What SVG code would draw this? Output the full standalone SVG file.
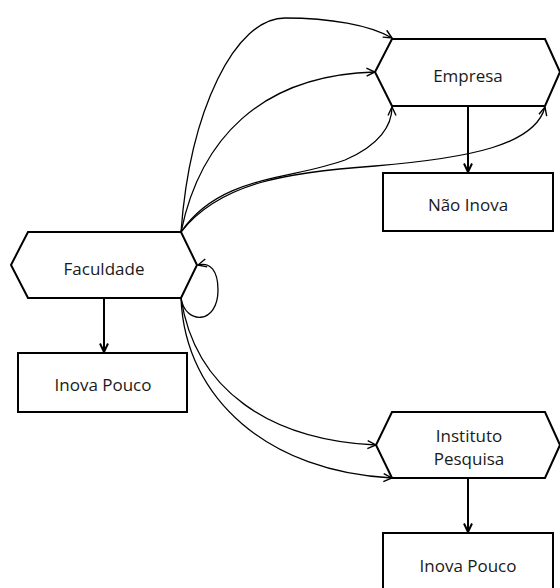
<svg xmlns="http://www.w3.org/2000/svg" width="560" height="588" viewBox="0 0 560 588">
<style>
.node{fill:#fff;stroke:#000;stroke-width:2}
.lbl{font-family:"Open Sans","Liberation Sans",sans-serif;font-size:17px;fill:#1a1a1a;text-anchor:middle}
.con{fill:none;stroke:#000;stroke-width:1.3}
.down{fill:none;stroke:#000;stroke-width:2}
</style>
<defs>
<marker id="arr" viewBox="0 0 10 10" refX="9.5" refY="5" markerWidth="10" markerHeight="10" markerUnits="userSpaceOnUse" orient="auto">
<path d="M1,1 L9.5,5 L1,9" fill="none" stroke="#000" stroke-width="1.4"/>
</marker>
<marker id="arrd" viewBox="0 0 10 10" refX="9.5" refY="5" markerWidth="10" markerHeight="10" markerUnits="userSpaceOnUse" orient="auto">
<path d="M1,1 L9.5,5 L1,9" fill="none" stroke="#000" stroke-width="2"/>
</marker>
</defs>
<rect width="560" height="588" fill="#fff"/>
<g id="connectors">
<path class="con" d="M181,232 C190,110 235,18 285,18 C330,18 370,25 392,38" marker-end="url(#arr)"/>
<path class="con" d="M181,232 C200,140 260,75 375,72" marker-end="url(#arr)"/>
<path class="con" d="M181,232 C220,175 290,180 345,160 C380,145 392,125 392,107" marker-end="url(#arr)"/>
<path class="con" d="M181,232 C220,182 290,172 375,166 C470,158 535,145 545,107" marker-end="url(#arr)"/>
<path class="con" d="M181,298 C185,325 218,325 218,290 C218,270 210,262 198,265" marker-end="url(#arr)"/>
<path class="con" d="M181,298 C195,390 270,440 376,445" marker-end="url(#arr)"/>
<path class="con" d="M181,298 C185,400 270,472 392,478" marker-end="url(#arr)"/>
<path class="down" d="M104,298 L104,352" marker-end="url(#arrd)"/>
<path class="down" d="M468,106 L468,172" marker-end="url(#arrd)"/>
<path class="down" d="M468,478 L468,532" marker-end="url(#arrd)"/>
</g>
<g id="empresa">
<polygon class="node" points="392,39 545,39 560,72 545,106 392,106 375,72"/>
<text class="lbl" x="468" y="82">Empresa</text>
</g>
<g id="nao-inova">
<rect class="node" x="383" y="173" width="170" height="58"/>
<text class="lbl" x="468" y="211">Não Inova</text>
</g>
<g id="faculdade">
<polygon class="node" points="28,232 181,232 197,265 181,298 28,298 11,265"/>
<text class="lbl" x="104" y="275">Faculdade</text>
</g>
<g id="inova-pouco-1">
<rect class="node" x="18" y="353" width="169" height="59"/>
<text class="lbl" x="103" y="391">Inova Pouco</text>
</g>
<g id="instituto">
<polygon class="node" points="392,412 545,412 560,445 545,478 392,478 376,445"/>
<text class="lbl" x="469" y="442">Instituto</text>
<text class="lbl" x="469" y="465">Pesquisa</text>
</g>
<g id="inova-pouco-2">
<rect class="node" x="383" y="533" width="170" height="60"/>
<text class="lbl" x="468" y="572">Inova Pouco</text>
</g>
</svg>
